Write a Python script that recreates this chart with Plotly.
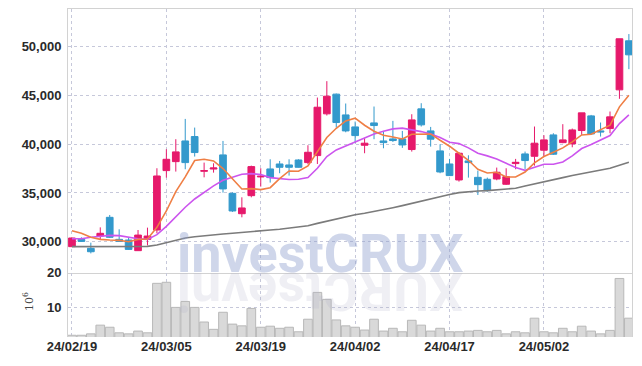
import plotly.graph_objects as go

dates = ["24/02/19", "24/02/20", "24/02/21", "24/02/22", "24/02/23", "24/02/26", "24/02/27", "24/02/28", "24/02/29", "24/03/04",
         "24/03/05", "24/03/06", "24/03/07", "24/03/08", "24/03/11", "24/03/12", "24/03/13", "24/03/14", "24/03/15", "24/03/18",
         "24/03/19", "24/03/20", "24/03/21", "24/03/22", "24/03/25", "24/03/26", "24/03/27", "24/03/28", "24/03/29", "24/04/01",
         "24/04/02", "24/04/03", "24/04/04", "24/04/05", "24/04/08", "24/04/09", "24/04/11", "24/04/12", "24/04/15", "24/04/16",
         "24/04/17", "24/04/18", "24/04/19", "24/04/22", "24/04/23", "24/04/24", "24/04/25", "24/04/26", "24/04/29", "24/04/30",
         "24/05/02", "24/05/03", "24/05/07", "24/05/08", "24/05/09", "24/05/10", "24/05/13", "24/05/14", "24/05/16", "24/05/17"]

opens = [29490, 30240, 29320, 30580, 32500, 30240, 30170, 29080, 30240, 31200,
         37290, 38210, 40330, 40780, 37220, 37450, 38900, 34960, 32870, 34720,
         36640, 37460, 37970, 37870, 38380, 38110, 38830, 43110, 45130, 43000,
         41770, 39890, 42180, 40330, 40540, 40540, 39450, 43620, 41360, 39310,
         37970, 36330, 38280, 36600, 36400, 36430, 35890, 38010, 39000, 38760,
         39380, 40950, 40160, 40030, 41400, 42900, 41360, 41600, 45570, 50600]
highs = [30400, 30450, 29900, 31470, 32740, 31270, 30450, 31200, 31440, 37530,
         39480, 40510, 42590, 41700, 38110, 38040, 40330, 35060, 34550, 37800,
         37530, 38450, 38280, 38450, 38450, 39890, 44780, 46460, 45190, 44170,
         42320, 40640, 43860, 41360, 42390, 41360, 43070, 44200, 41770, 39990,
         38490, 39170, 38860, 37290, 36570, 37600, 37530, 38490, 39240, 41810,
         40920, 41120, 42050, 41600, 43210, 43000, 42220, 43350, 50810, 51290]
lows = [29450, 29970, 28800, 30170, 30380, 29970, 29150, 29080, 29620, 30860,
        36570, 37190, 37430, 38730, 36600, 37080, 35030, 33050, 32500, 34550,
        35650, 36060, 37020, 36780, 37600, 37940, 37970, 42940, 41700, 41220,
        40100, 39070, 40510, 39580, 40230, 39620, 39240, 41810, 39750, 37020,
        36740, 36160, 36570, 34790, 35130, 36300, 35820, 37430, 37460, 37800,
        38800, 38900, 40100, 39680, 40950, 40990, 40780, 41120, 44650, 47690]
closes = [30380, 30030, 28970, 30860, 30450, 30030, 29210, 30680, 30580, 36740,
          38450, 39210, 38110, 39140, 37290, 37560, 35410, 33150, 33460, 37700,
          36710, 36570, 37630, 37630, 37630, 39170, 43790, 44920, 42220, 41360,
          40880, 40100, 41910, 40160, 40370, 39920, 42490, 41980, 40510, 37150,
          36780, 39070, 38110, 35850, 35240, 37120, 36670, 38140, 38320, 40100,
          40440, 38970, 40440, 41460, 43210, 41050, 41260, 42800, 50810, 49160]

ma5 = [31130, 30860, 30450, 30240, 30170, 30140, 30000, 30240, 30270, 31470,
       33150, 35130, 36640, 38320, 38450, 38280, 37500, 36500, 35400, 35440,
       35340, 35540, 36470, 37250, 37220, 37770, 39200, 40680, 41630, 42390,
       42660, 41940, 41330, 40920, 40740, 40540, 41020, 41020, 41050, 40400,
       39790, 39070, 38350, 37430, 37050, 37120, 36640, 36640, 37150, 38080,
       38730, 39170, 39620, 40230, 40950, 41020, 41500, 41940, 43830, 45020]
ma10 = [30310, 30310, 30450, 30580, 30650, 30620, 30450, 30310, 30240, 30720,
        31570, 32530, 33530, 34380, 35070, 35720, 36300, 36640, 36910, 36980,
        36880, 36570, 36500, 36370, 36400, 36570, 37530, 38730, 39410, 39860,
        40230, 40640, 41050, 41330, 41570, 41640, 41500, 41290, 41050, 40680,
        40200, 40060, 39620, 39070, 38800, 38490, 38040, 37600, 37320, 37630,
        37940, 37940, 38180, 38800, 39550, 39960, 40440, 40880, 42110, 43000]
ma_long = [29490, 29490, 29490, 29490, 29490, 29490, 29490, 29490, 29520, 29660,
           29900, 30170, 30380, 30510, 30620, 30680, 30790, 30860, 30960, 31060,
           31130, 31200, 31270, 31370, 31510, 31640, 31880, 32120, 32360, 32600,
           32770, 32910, 33080, 33290, 33490, 33700, 33940, 34180, 34380, 34620,
           34830, 35030, 35130, 35200, 35240, 35300, 35370, 35480, 35720, 35950,
           36160, 36370, 36570, 36780, 36950, 37120, 37290, 37530, 37840, 38140]

volume_m = [2.1, 2.1, 2.5, 5.0, 4.4, 2.8, 2.5, 3.3, 2.8, 17.0,
            17.3, 10.1, 11.8, 10.1, 5.9, 3.8, 8.7, 5.3, 4.8, 9.8,
            4.4, 4.7, 4.1, 4.4, 3.1, 6.7, 14.4, 12.4, 6.5, 4.8,
            4.4, 3.6, 6.7, 3.3, 4.1, 3.1, 6.4, 5.0, 3.3, 4.1,
            3.1, 3.1, 3.3, 3.5, 3.1, 3.5, 2.5, 3.1, 2.8, 7.0,
            3.1, 2.8, 4.1, 3.1, 4.7, 3.3, 2.5, 3.5, 18.4, 7.0]

price_ticks = [30000, 35000, 40000, 45000, 50000]
price_tick_text = ["30,000", "35,000", "40,000", "45,000", "50,000"]
volume_ticks = [10, 20]
date_ticks = [dates[0], dates[10], dates[20], dates[30], dates[40], dates[50]]

UP = "#e6196b"
DOWN = "#3399cc"
GRID = "#c6c8da"
FRAME = "#d2d2d2"
TICKFONT = dict(family="Liberation Sans, Arial, sans-serif", size=13, color="#2a2a2a", weight="bold")

fig = go.Figure()
fig.add_trace(go.Candlestick(
    x=dates, open=opens, high=highs, low=lows, close=closes,
    increasing=dict(line=dict(color=UP, width=1), fillcolor=UP),
    decreasing=dict(line=dict(color=DOWN, width=1), fillcolor=DOWN),
    whiskerwidth=0, showlegend=False, xaxis="x", yaxis="y"))
fig.add_trace(go.Scatter(x=dates, y=ma_long, mode="lines", line=dict(color="#7b7b7b", width=1.6),
                         showlegend=False, xaxis="x", yaxis="y"))
fig.add_trace(go.Scatter(x=dates, y=ma10, mode="lines", line=dict(color="#cc55ee", width=1.6),
                         showlegend=False, xaxis="x", yaxis="y"))
fig.add_trace(go.Scatter(x=dates, y=ma5, mode="lines", line=dict(color="#ef7f45", width=1.6),
                         showlegend=False, xaxis="x", yaxis="y"))
fig.add_trace(go.Bar(x=dates, y=volume_m, marker=dict(color="#d9d9d9", line=dict(color="#b8b8b8", width=1)),
                     showlegend=False, xaxis="x2", yaxis="y2"))

xrange = [-0.42, 59.33]
fig.update_layout(
    width=642, height=366, template="none",
    paper_bgcolor="white", plot_bgcolor="white",
    margin=dict(l=68, r=10, t=9, b=29, autoexpand=False),
    bargap=0.08, boxgap=0.29, boxgroupgap=0,
    xaxis=dict(domain=[0, 1], anchor="y", type="category", range=xrange, rangeslider=dict(visible=False),
               tickvals=date_ticks, showticklabels=False, ticks="",
               showgrid=True, gridcolor=GRID, griddash="dot", gridwidth=1,
               showline=True, mirror=True, linecolor=FRAME, linewidth=1, automargin=False),
    yaxis=dict(domain=[0.196, 1], anchor="x", range=[26820, 53860], tickvals=price_ticks, ticktext=price_tick_text,
               tickfont=TICKFONT, ticks="", showgrid=True, gridcolor=GRID, griddash="dot", gridwidth=1,
               zeroline=False, showline=True, mirror=True, linecolor=FRAME, linewidth=1, automargin=False,
               ticklabelstandoff=3),
    xaxis2=dict(domain=[0, 1], anchor="y2", type="category", range=xrange, tickvals=date_ticks,
                tickfont=TICKFONT, ticks="", showgrid=True, gridcolor=GRID, griddash="dot", gridwidth=1,
                showline=False, automargin=False),
    yaxis2=dict(domain=[0, 0.196], anchor="x2", range=[1.6, 20.05], tickvals=volume_ticks,
                tickfont=TICKFONT, ticks="", showgrid=True, gridcolor=GRID, griddash="dot", gridwidth=1,
                zeroline=False, showline=True, mirror=True, linecolor=FRAME, linewidth=1, automargin=False,
                ticklabelstandoff=3),
    annotations=[
        dict(text="investCRUX", xref="paper", yref="paper", x=0.447, y=0.256, xanchor="center", yanchor="middle",
             showarrow=False, font=dict(family="Roboto, Liberation Sans, sans-serif", size=54, weight="bold",
                                        color="rgba(140,158,205,0.42)")),
        dict(text="XURCtsevni", xref="paper", yref="paper", x=0.447, y=0.137, xanchor="center", yanchor="middle",
             textangle=180, showarrow=False,
             font=dict(family="Roboto, Liberation Sans, sans-serif", size=54, weight="bold",
                       color="rgba(175,175,200,0.2)")),
        dict(text="10<sup>6</sup>", xref="paper", yref="paper", x=-0.069, y=0.107, xanchor="center", yanchor="middle",
             textangle=-90, showarrow=False, font=dict(family="DejaVu Serif, serif", size=11, color="#444")),
    ],
)

fig.write_html("out.html", config={"displayModeBar": False},
               post_script="document.body.style.margin='0px';document.body.style.overflow='hidden';")
